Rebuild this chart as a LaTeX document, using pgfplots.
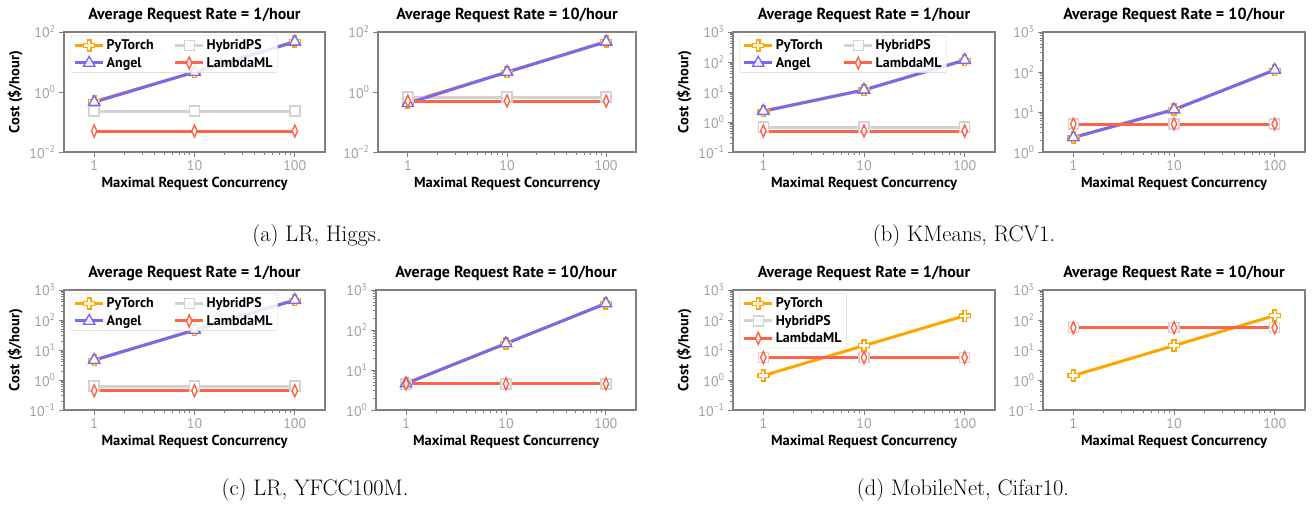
\documentclass[border=0pt]{standalone}
\usepackage{fontspec}
\usepackage{pgfplots}
\pgfplotsset{compat=1.18}
\newfontfamily\dinfont{PT Sans}

\definecolor{cpy}{HTML}{FFA500}
\definecolor{cang}{HTML}{7B68EE}
\definecolor{chyb}{HTML}{D3D3D3}
\definecolor{clam}{HTML}{FF6347}
\definecolor{axgray}{HTML}{808080}
\definecolor{tkgray}{HTML}{A0A0A0}

% matplotlib "P" marker: a fat plus
\pgfdeclareplotmark{fatplus}{%
  \pgfpathmoveto{\pgfqpoint{-0.33\pgfplotmarksize}{\pgfplotmarksize}}%
  \pgfpathlineto{\pgfqpoint{0.33\pgfplotmarksize}{\pgfplotmarksize}}%
  \pgfpathlineto{\pgfqpoint{0.33\pgfplotmarksize}{0.33\pgfplotmarksize}}%
  \pgfpathlineto{\pgfqpoint{\pgfplotmarksize}{0.33\pgfplotmarksize}}%
  \pgfpathlineto{\pgfqpoint{\pgfplotmarksize}{-0.33\pgfplotmarksize}}%
  \pgfpathlineto{\pgfqpoint{0.33\pgfplotmarksize}{-0.33\pgfplotmarksize}}%
  \pgfpathlineto{\pgfqpoint{0.33\pgfplotmarksize}{-\pgfplotmarksize}}%
  \pgfpathlineto{\pgfqpoint{-0.33\pgfplotmarksize}{-\pgfplotmarksize}}%
  \pgfpathlineto{\pgfqpoint{-0.33\pgfplotmarksize}{-0.33\pgfplotmarksize}}%
  \pgfpathlineto{\pgfqpoint{-\pgfplotmarksize}{-0.33\pgfplotmarksize}}%
  \pgfpathlineto{\pgfqpoint{-\pgfplotmarksize}{0.33\pgfplotmarksize}}%
  \pgfpathlineto{\pgfqpoint{-0.33\pgfplotmarksize}{0.33\pgfplotmarksize}}%
  \pgfpathclose
  \pgfusepathqfillstroke}

\tikzset{
  serpy/.style={color=cpy, line width=3pt, mark=fatplus, mark size=5.5pt, mark options={draw=cpy, fill=white, line width=1.4pt}},
  serang/.style={color=cang, line width=3pt, mark=triangle*, mark size=6.5pt, mark options={draw=cang, fill=white, line width=1.4pt}},
  serhyb/.style={color=chyb, line width=3pt, mark=square*, mark size=5pt, mark options={draw=chyb, fill=white, line width=1.4pt}},
  serlam/.style={color=clam, line width=3pt, mark=diamond*, mark size=6pt, mark options={draw=clam, fill=white, line width=1.4pt, xscale=0.6}},
}

\begin{document}
\begin{tikzpicture}
\path (0pt,0pt) rectangle (1312pt,505pt);

% ---------- (a) LR, Higgs ----------
\begin{axis}[scale only axis, width=261pt, height=120pt, at={(64pt,353pt)},
  xmode=log, ymode=log, xmin=0.5, xmax=200, ymin=0.01, ymax=100,
  xtick={1,10,100}, xticklabels={1,10,100}, yminorticks=false,
  ytick={0.01,1,100}, yticklabels={10\textsuperscript{−2},10\textsuperscript{0},10\textsuperscript{2}},
  axis line style={draw=axgray, line width=1.8pt},
  tick style={draw=axgray, line width=0.9pt},
  major tick length=5pt, minor tick length=3pt, tick align=outside,
  xtick pos=left, ytick pos=left,
  ticklabel style={font=\dinfont\fontsize{14}{14}\selectfont, text=tkgray},
  title style={font=\dinfont\bfseries\fontsize{16}{16}\selectfont},
  label style={font=\dinfont\bfseries\fontsize{14.5}{14.5}\selectfont},
  title={Average Request Rate = 1/hour},
  xlabel={Maximal Request Concurrency}, ylabel={Cost (\$/hour)},
  legend columns=2, legend cell align=left,
  legend style={at={(0.025,0.97)}, anchor=north west, draw=chyb, rounded corners=2pt,
    fill=white, fill opacity=0.85, text opacity=1, row sep=2pt,
    font=\dinfont\bfseries\fontsize{14}{14}\selectfont,
    /tikz/every even column/.append style={column sep=18pt}},
  legend image code/.code={\draw[mark repeat=2,mark phase=2,#1] plot coordinates {(0pt,0pt) (14pt,0pt) (28pt,0pt)};}]
\addplot[serpy] coordinates {(1,0.48) (10,4.6) (100,48)};
\addlegendentry{PyTorch}
\addplot[serhyb] coordinates {(1,0.23) (10,0.23) (100,0.23)};
\addlegendentry{HybridPS}
\addplot[serang] coordinates {(1,0.46) (10,4.6) (100,47)};
\addlegendentry{Angel}
\addplot[serlam] coordinates {(1,0.05) (10,0.05) (100,0.05)};
\addlegendentry{LambdaML}
\end{axis}

\begin{axis}[scale only axis, width=258pt, height=120pt, at={(378pt,353pt)},
  xmode=log, ymode=log, xmin=0.5, xmax=200, ymin=0.01, ymax=100,
  xtick={1,10,100}, xticklabels={1,10,100}, yminorticks=false,
  ytick={0.01,1,100}, yticklabels={10\textsuperscript{−2},10\textsuperscript{0},10\textsuperscript{2}},
  axis line style={draw=axgray, line width=1.8pt},
  tick style={draw=axgray, line width=0.9pt},
  major tick length=5pt, minor tick length=3pt, tick align=outside,
  xtick pos=left, ytick pos=left,
  ticklabel style={font=\dinfont\fontsize{14}{14}\selectfont, text=tkgray},
  title style={font=\dinfont\bfseries\fontsize{16}{16}\selectfont},
  label style={font=\dinfont\bfseries\fontsize{14.5}{14.5}\selectfont},
  title={Average Request Rate = 10/hour},
  xlabel={Maximal Request Concurrency}]
\addplot[serpy] coordinates {(1,0.45) (10,4.6) (100,48)};
\addplot[serhyb] coordinates {(1,0.68) (10,0.68) (100,0.68)};
\addplot[serang] coordinates {(1,0.42) (10,4.6) (100,47)};
\addplot[serlam] coordinates {(1,0.5) (10,0.5) (100,0.5)};
\end{axis}

% ---------- (b) KMeans, RCV1 ----------
\begin{axis}[scale only axis, width=262pt, height=120pt, at={(733pt,353pt)},
  xmode=log, ymode=log, xmin=0.5, xmax=200, ymin=0.1, ymax=1000,
  xtick={1,10,100}, xticklabels={1,10,100},
  ytick={0.1,1,10,100,1000}, yticklabels={10\textsuperscript{−1},10\textsuperscript{0},10\textsuperscript{1},10\textsuperscript{2},10\textsuperscript{3}},
  axis line style={draw=axgray, line width=1.8pt},
  tick style={draw=axgray, line width=0.9pt},
  major tick length=5pt, minor tick length=3pt, tick align=outside,
  xtick pos=left, ytick pos=left,
  ticklabel style={font=\dinfont\fontsize{14}{14}\selectfont, text=tkgray},
  title style={font=\dinfont\bfseries\fontsize{16}{16}\selectfont},
  label style={font=\dinfont\bfseries\fontsize{14.5}{14.5}\selectfont},
  title={Average Request Rate = 1/hour},
  xlabel={Maximal Request Concurrency}, ylabel={Cost (\$/hour)},
  legend columns=2, legend cell align=left,
  legend style={at={(0.025,0.97)}, anchor=north west, draw=chyb, rounded corners=2pt,
    fill=white, fill opacity=0.85, text opacity=1, row sep=2pt,
    font=\dinfont\bfseries\fontsize{14}{14}\selectfont,
    /tikz/every even column/.append style={column sep=18pt}},
  legend image code/.code={\draw[mark repeat=2,mark phase=2,#1] plot coordinates {(0pt,0pt) (14pt,0pt) (28pt,0pt)};}]
\addplot[serpy] coordinates {(1,2.3) (10,11.7) (100,115)};
\addlegendentry{PyTorch}
\addplot[serhyb] coordinates {(1,0.68) (10,0.68) (100,0.68)};
\addlegendentry{HybridPS}
\addplot[serang] coordinates {(1,2.3) (10,11.7) (100,115)};
\addlegendentry{Angel}
\addplot[serlam] coordinates {(1,0.5) (10,0.5) (100,0.5)};
\addlegendentry{LambdaML}
\end{axis}

\begin{axis}[scale only axis, width=262pt, height=120pt, at={(1043pt,353pt)},
  xmode=log, ymode=log, xmin=0.5, xmax=200, ymin=1, ymax=1000,
  xtick={1,10,100}, xticklabels={1,10,100},
  ytick={1,10,100,1000}, yticklabels={10\textsuperscript{0},10\textsuperscript{1},10\textsuperscript{2},10\textsuperscript{3}},
  axis line style={draw=axgray, line width=1.8pt},
  tick style={draw=axgray, line width=0.9pt},
  major tick length=5pt, minor tick length=3pt, tick align=outside,
  xtick pos=left, ytick pos=left,
  ticklabel style={font=\dinfont\fontsize{14}{14}\selectfont, text=tkgray},
  title style={font=\dinfont\bfseries\fontsize{16}{16}\selectfont},
  label style={font=\dinfont\bfseries\fontsize{14.5}{14.5}\selectfont},
  title={Average Request Rate = 10/hour},
  xlabel={Maximal Request Concurrency}]
\addplot[serpy] coordinates {(1,2.3) (10,11.5) (100,112)};
\addplot[serhyb] coordinates {(1,5) (10,5) (100,5)};
\addplot[serang] coordinates {(1,2.3) (10,11.5) (100,112)};
\addplot[serlam] coordinates {(1,5) (10,5) (100,5)};
\end{axis}

% ---------- (c) LR, YFCC100M ----------
\begin{axis}[scale only axis, width=261pt, height=120pt, at={(64pt,95pt)},
  xmode=log, ymode=log, xmin=0.5, xmax=200, ymin=0.1, ymax=1000,
  xtick={1,10,100}, xticklabels={1,10,100},
  ytick={0.1,1,10,100,1000}, yticklabels={10\textsuperscript{−1},10\textsuperscript{0},10\textsuperscript{1},10\textsuperscript{2},10\textsuperscript{3}},
  axis line style={draw=axgray, line width=1.8pt},
  tick style={draw=axgray, line width=0.9pt},
  major tick length=5pt, minor tick length=3pt, tick align=outside,
  xtick pos=left, ytick pos=left,
  ticklabel style={font=\dinfont\fontsize{14}{14}\selectfont, text=tkgray},
  title style={font=\dinfont\bfseries\fontsize{16}{16}\selectfont},
  label style={font=\dinfont\bfseries\fontsize{14.5}{14.5}\selectfont},
  title={Average Request Rate = 1/hour},
  xlabel={Maximal Request Concurrency}, ylabel={Cost (\$/hour)},
  legend columns=2, legend cell align=left,
  legend style={at={(0.025,0.97)}, anchor=north west, draw=chyb, rounded corners=2pt,
    fill=white, fill opacity=0.85, text opacity=1, row sep=2pt,
    font=\dinfont\bfseries\fontsize{14}{14}\selectfont,
    /tikz/every even column/.append style={column sep=18pt}},
  legend image code/.code={\draw[mark repeat=2,mark phase=2,#1] plot coordinates {(0pt,0pt) (14pt,0pt) (28pt,0pt)};}]
\addplot[serpy] coordinates {(1,4.6) (10,46) (100,460)};
\addlegendentry{PyTorch}
\addplot[serhyb] coordinates {(1,0.63) (10,0.63) (100,0.63)};
\addlegendentry{HybridPS}
\addplot[serang] coordinates {(1,4.6) (10,46) (100,460)};
\addlegendentry{Angel}
\addplot[serlam] coordinates {(1,0.44) (10,0.44) (100,0.44)};
\addlegendentry{LambdaML}
\end{axis}

\begin{axis}[scale only axis, width=260pt, height=120pt, at={(376pt,95pt)},
  xmode=log, ymode=log, xmin=0.5, xmax=200, ymin=1, ymax=1000,
  xtick={1,10,100}, xticklabels={1,10,100},
  ytick={1,10,100,1000}, yticklabels={10\textsuperscript{0},10\textsuperscript{1},10\textsuperscript{2},10\textsuperscript{3}},
  axis line style={draw=axgray, line width=1.8pt},
  tick style={draw=axgray, line width=0.9pt},
  major tick length=5pt, minor tick length=3pt, tick align=outside,
  xtick pos=left, ytick pos=left,
  ticklabel style={font=\dinfont\fontsize{14}{14}\selectfont, text=tkgray},
  title style={font=\dinfont\bfseries\fontsize{16}{16}\selectfont},
  label style={font=\dinfont\bfseries\fontsize{14.5}{14.5}\selectfont},
  title={Average Request Rate = 10/hour},
  xlabel={Maximal Request Concurrency}]
\addplot[serpy] coordinates {(1,4.6) (10,46) (100,460)};
\addplot[serhyb] coordinates {(1,4.5) (10,4.5) (100,4.5)};
\addplot[serang] coordinates {(1,4.6) (10,46) (100,460)};
\addplot[serlam] coordinates {(1,4.5) (10,4.5) (100,4.5)};
\end{axis}

% ---------- (d) MobileNet, Cifar10 ----------
\begin{axis}[scale only axis, width=262pt, height=120pt, at={(733pt,95pt)},
  xmode=log, ymode=log, xmin=0.5, xmax=200, ymin=0.1, ymax=1000,
  xtick={1,10,100}, xticklabels={1,10,100},
  ytick={0.1,1,10,100,1000}, yticklabels={10\textsuperscript{−1},10\textsuperscript{0},10\textsuperscript{1},10\textsuperscript{2},10\textsuperscript{3}},
  axis line style={draw=axgray, line width=1.8pt},
  tick style={draw=axgray, line width=0.9pt},
  major tick length=5pt, minor tick length=3pt, tick align=outside,
  xtick pos=left, ytick pos=left,
  ticklabel style={font=\dinfont\fontsize{14}{14}\selectfont, text=tkgray},
  title style={font=\dinfont\bfseries\fontsize{16}{16}\selectfont},
  label style={font=\dinfont\bfseries\fontsize{14.5}{14.5}\selectfont},
  title={Average Request Rate = 1/hour},
  xlabel={Maximal Request Concurrency}, ylabel={Cost (\$/hour)},
  legend cell align=left,
  legend style={at={(0.025,0.97)}, anchor=north west, draw=chyb, rounded corners=2pt,
    fill=white, fill opacity=0.85, text opacity=1, row sep=2pt,
    font=\dinfont\bfseries\fontsize{14}{14}\selectfont},
  legend image code/.code={\draw[mark repeat=2,mark phase=2,#1] plot coordinates {(0pt,0pt) (14pt,0pt) (28pt,0pt)};}]
\addplot[serpy] coordinates {(1,1.4) (10,14) (100,138)};
\addlegendentry{PyTorch}
\addplot[serhyb] coordinates {(1,5.6) (10,5.6) (100,5.6)};
\addlegendentry{HybridPS}
\addplot[serlam] coordinates {(1,5.6) (10,5.6) (100,5.6)};
\addlegendentry{LambdaML}
\end{axis}

\begin{axis}[scale only axis, width=262pt, height=120pt, at={(1043pt,95pt)},
  xmode=log, ymode=log, xmin=0.5, xmax=200, ymin=0.1, ymax=1000,
  xtick={1,10,100}, xticklabels={1,10,100},
  ytick={0.1,1,10,100,1000}, yticklabels={10\textsuperscript{−1},10\textsuperscript{0},10\textsuperscript{1},10\textsuperscript{2},10\textsuperscript{3}},
  axis line style={draw=axgray, line width=1.8pt},
  tick style={draw=axgray, line width=0.9pt},
  major tick length=5pt, minor tick length=3pt, tick align=outside,
  xtick pos=left, ytick pos=left,
  ticklabel style={font=\dinfont\fontsize{14}{14}\selectfont, text=tkgray},
  title style={font=\dinfont\bfseries\fontsize{16}{16}\selectfont},
  label style={font=\dinfont\bfseries\fontsize{14.5}{14.5}\selectfont},
  title={Average Request Rate = 10/hour},
  xlabel={Maximal Request Concurrency}]
\addplot[serpy] coordinates {(1,1.4) (10,14) (100,140)};
\addplot[serhyb] coordinates {(1,55) (10,55) (100,55)};
\addplot[serlam] coordinates {(1,55) (10,55) (100,55)};
\end{axis}

% ---------- captions ----------
\node[font=\fontsize{22.5}{27}\selectfont] at (317pt,269pt) {(a) LR, Higgs.};
\node[font=\fontsize{22.5}{27}\selectfont] at (964pt,269pt) {(b) KMeans, RCV1.};
\node[font=\fontsize{22.5}{27}\selectfont] at (315pt,15pt) {(c) LR, YFCC100M.};
\node[font=\fontsize{22.5}{27}\selectfont] at (963pt,15pt) {(d) MobileNet, Cifar10.};
\end{tikzpicture}
\end{document}
